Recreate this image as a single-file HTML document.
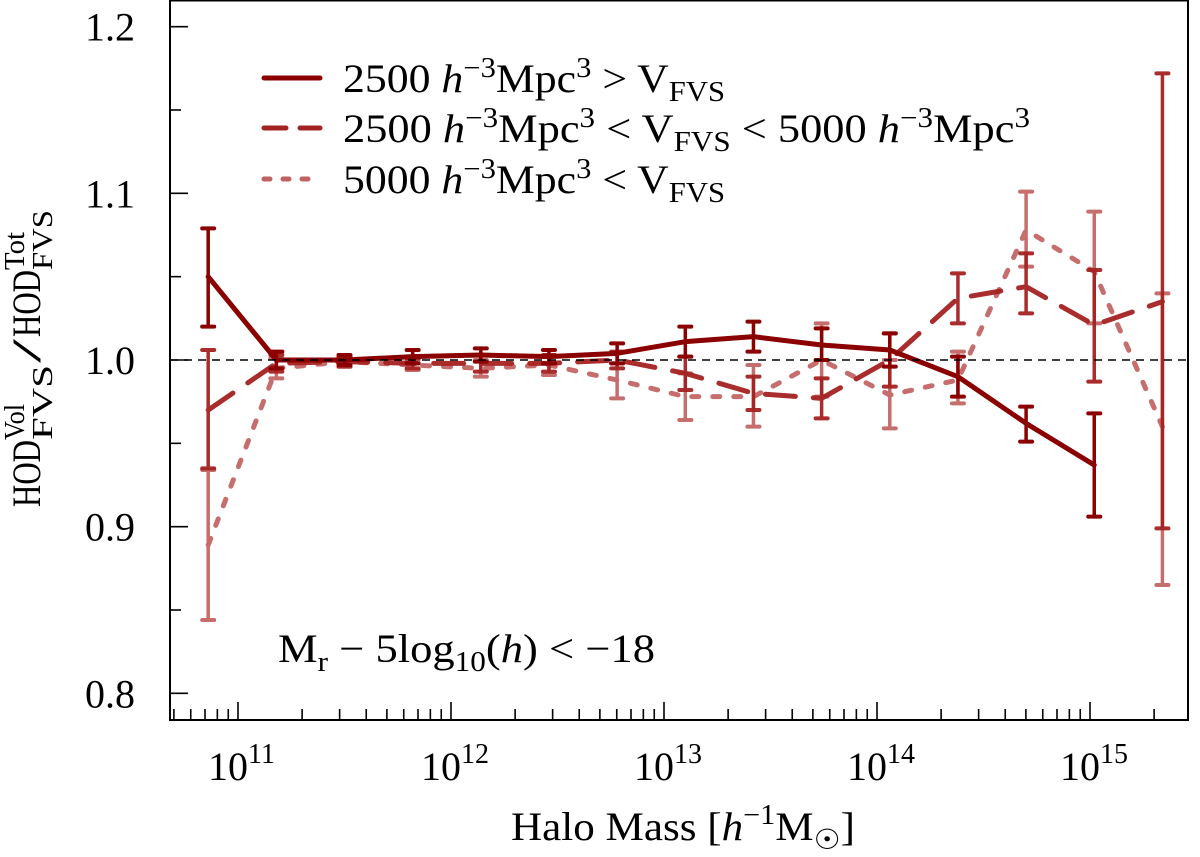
<!DOCTYPE html>
<html><head><meta charset="utf-8"><style>
body{margin:0;background:#fff}
svg text{font-family:"Liberation Serif",serif;fill:#000}
</style></head><body>
<svg id="chart" width="1200" height="852" viewBox="0 0 1200 852" xmlns="http://www.w3.org/2000/svg">
<g id="marks"></g>
<rect x="170" y="0.5" width="1018" height="719.5" fill="none" stroke="#000" stroke-width="2"/>
<line x1="170" x2="1188" y1="360" y2="360" stroke="#000" stroke-width="1.6" stroke-dasharray="8,6"/>
<g id="axes"></g>
<g>
<line x1="264" x2="320" y1="78" y2="78" stroke="#8b0000" stroke-width="5" stroke-linecap="round"/>
<text x="343" y="92" font-size="40" textLength="382" lengthAdjust="spacingAndGlyphs">2500 <tspan font-style="italic">h</tspan><tspan font-size="28" dy="-15">−3</tspan><tspan dy="15">Mpc</tspan><tspan font-size="28" dy="-15">3</tspan><tspan dy="15"> &gt; V</tspan><tspan font-size="28" dy="9">FVS</tspan></text>
<line x1="264" x2="320" y1="128" y2="128" stroke="#a52222" stroke-width="5" stroke-dasharray="22,14" stroke-linecap="round"/>
<text x="343" y="142" font-size="40" textLength="687" lengthAdjust="spacingAndGlyphs">2500 <tspan font-style="italic">h</tspan><tspan font-size="28" dy="-15">−3</tspan><tspan dy="15">Mpc</tspan><tspan font-size="28" dy="-15">3</tspan><tspan dy="15"> &lt; V</tspan><tspan font-size="28" dy="9">FVS</tspan><tspan dy="-9"> &lt; 5000 </tspan><tspan font-style="italic">h</tspan><tspan font-size="28" dy="-15">−3</tspan><tspan dy="15">Mpc</tspan><tspan font-size="28" dy="-15">3</tspan></text>
<line x1="264" x2="320" y1="179" y2="179" stroke="#c06262" stroke-width="5" stroke-dasharray="6,13" stroke-linecap="round"/>
<text x="343" y="193" font-size="40" textLength="382" lengthAdjust="spacingAndGlyphs">5000 <tspan font-style="italic">h</tspan><tspan font-size="28" dy="-15">−3</tspan><tspan dy="15">Mpc</tspan><tspan font-size="28" dy="-15">3</tspan><tspan dy="15"> &lt; V</tspan><tspan font-size="28" dy="9">FVS</tspan></text>
</g>
<text x="278" y="662" font-size="40" textLength="377" lengthAdjust="spacingAndGlyphs">M<tspan font-size="28" dy="9">r</tspan><tspan dy="-9"> − 5log</tspan><tspan font-size="28" dy="9">10</tspan><tspan dy="-9">(</tspan><tspan font-style="italic">h</tspan>) &lt; −18</text>
<text x="511" y="840" font-size="40" textLength="344" lengthAdjust="spacingAndGlyphs">Halo Mass [<tspan font-style="italic">h</tspan><tspan font-size="28" dy="-16">−1</tspan><tspan dy="16">M</tspan><tspan font-size="28" dy="9">☉</tspan><tspan dy="-9">]</tspan></text>
<g transform="translate(40,360) rotate(-90)">
<text x="-147" y="0" font-size="40" textLength="67" lengthAdjust="spacingAndGlyphs">HOD</text>
<text x="-80" y="-16" font-size="28" textLength="36" lengthAdjust="spacingAndGlyphs">Vol</text>
<text x="-80" y="12" font-size="28" textLength="75" lengthAdjust="spacingAndGlyphs">FVS</text>
<text x="-3" y="0" font-size="40" textLength="24" lengthAdjust="spacingAndGlyphs">/</text>
<text x="23" y="0" font-size="40" textLength="67" lengthAdjust="spacingAndGlyphs">HOD</text>
<text x="90" y="-16" font-size="28" textLength="38" lengthAdjust="spacingAndGlyphs">Tot</text>
<text x="90" y="12" font-size="28" textLength="60" lengthAdjust="spacingAndGlyphs">FVS</text>
</g>
</svg>
<script>
const logMass=[10.86,11.18,11.5,11.82,12.14,12.46,12.78,13.1,13.42,13.74,14.06,14.38,14.7,15.02,15.34];
const smallVal=[1.050,1.000,1.000,1.002,1.003,1.002,1.004,1.011,1.014,1.009,1.006,0.990,0.962,0.937];
const smallLo=[1.020,0.995,0.997,0.998,0.999,0.998,0.998,1.002,1.005,1.000,0.996,0.978,0.951,0.906];
const smallHi=[1.079,1.005,1.003,1.006,1.007,1.006,1.010,1.020,1.023,1.019,1.016,1.002,0.972,0.968];
const midVal=[0.970,0.998,0.999,0.998,0.998,0.998,1.000,0.992,0.980,0.977,1.000,1.037,1.044,1.021,1.035];
const midLo=[0.935,0.993,0.996,0.995,0.993,0.993,0.995,0.982,0.970,0.965,0.984,1.022,1.028,0.987,0.899];
const midHi=[1.006,1.003,1.002,1.001,1.003,1.003,1.005,1.002,0.990,0.989,1.016,1.052,1.064,1.054,1.172];
const largeVal=[0.889,0.995,0.999,0.997,0.995,0.997,0.988,0.978,0.978,1.000,0.979,0.988,1.078,1.053,0.960];
const largeLo=[0.844,0.989,0.996,0.994,0.990,0.991,0.977,0.964,0.960,0.978,0.959,0.974,1.056,1.022,0.865];
const largeHi=[0.934,1.001,1.002,1.000,1.000,1.003,0.998,0.992,0.997,1.022,1.000,1.005,1.101,1.089,1.040];
const yTicks=[0.8,0.9,1.0,1.1,1.2];
const yTickLabels=["0.8","0.9","1.0","1.1","1.2"];
const xDecades=[11,12,13,14,15];

const NS="http://www.w3.org/2000/svg";
const X=l=>238+(l-11)*213;
const Y=v=>360-(v-1)*1666.7;
function mk(tag,attrs,parent){const e=document.createElementNS(NS,tag);for(const k in attrs)e.setAttribute(k,attrs[k]);parent.appendChild(e);return e;}
const marks=document.getElementById('marks'), axes=document.getElementById('axes');

const series=[
 {name:'small',v:smallVal,lo:smallLo,hi:smallHi,c:'#8b0000',op:1,dash:''},
 {name:'mid',v:midVal,lo:midLo,hi:midHi,c:'#a52222',op:0.95,dash:'30,18'},
 {name:'large',v:largeVal,lo:largeLo,hi:largeHi,c:'#b84a4a',op:0.8,dash:'7,14'}
];
series.slice().reverse().forEach(s=>{
  const g=mk('g',{opacity:s.op},marks);
  
  
  s.v.forEach((v,i)=>{
    const x=X(logMass[i]);
    const b=mk('line',{x1:x,x2:x,y1:Y(s.lo[i]),y2:Y(s.hi[i]),stroke:s.c,'stroke-width':3.5},g);
    
    
    [s.lo[i],s.hi[i]].forEach(e=>{
      const c=mk('line',{x1:x-6,x2:x+6,y1:Y(e),y2:Y(e),stroke:s.c,'stroke-width':4,'stroke-linecap':'round'},g);
      
      
    });
  });
  const p=mk('polyline',{points:s.v.map((v,i)=>X(logMass[i])+','+Y(v)).join(' '),fill:'none',stroke:s.c,'stroke-width':5,'stroke-linecap':'round','stroke-linejoin':'round'},g);
  if(s.dash)p.setAttribute('stroke-dasharray',s.dash);
  
  
});

for(let v=0.8;v<=1.2001;v+=0.05){
  const major=Math.abs(Math.round(v*10)-v*10)<1e-6;
  const y=Y(v);
  const t=mk('line',{x1:170,x2:170+(major?18:11),y1:y,y2:y,stroke:'#000','stroke-width':1.6},axes);
  
  
}
yTicks.forEach((v,i)=>{
  const t=mk('text',{x:135,y:Y(v)+14,'font-size':40,'text-anchor':'end'},axes);
  t.textContent=yTickLabels[i];
  
  
});
for(let d=10;d<=15;d++){
  for(let m=1;m<=9;m++){
    const l=d+Math.log10(m), x=X(l);
    if(x<171||x>1187)continue;
    const major=m===1;
    const t=mk('line',{x1:x,x2:x,y1:720,y2:720-(major?18:11),stroke:'#000','stroke-width':1.6},axes);
    
    
  }
}
xDecades.forEach(d=>{
  const t=mk('text',{x:X(d)-30,y:780,'font-size':40},axes);
  t.textContent='10';
  const s=mk('tspan',{'font-size':28,dy:-17},t);
  s.textContent=String(d);
  
  
});
</script>
</body></html>
